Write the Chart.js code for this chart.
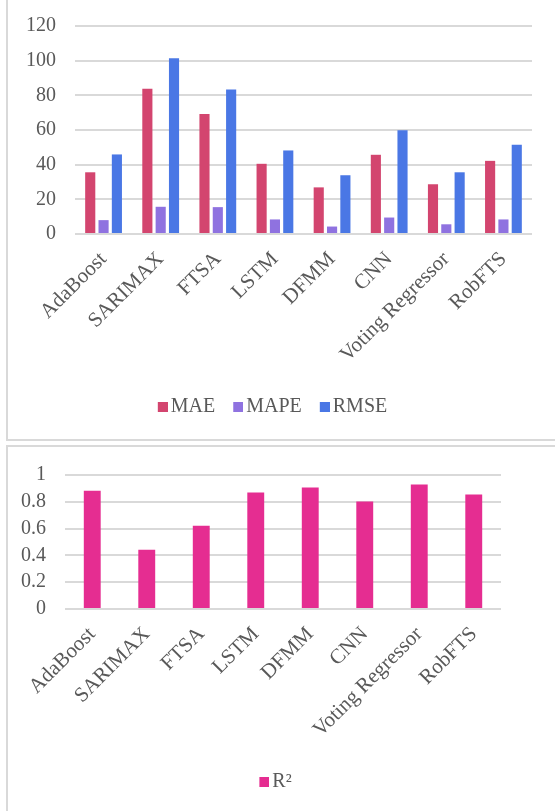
<!DOCTYPE html>
<html lang="en">
<head>
<meta charset="UTF-8">
<title>Model error metrics</title>
<script src="https://cdn.jsdelivr.net/npm/chart.js"></script>
<style>
  body {
    margin: 0;
    background: #fff;
    width: 555px;
    height: 811px;
    overflow: hidden;
    position: relative;
  }
  .panel {
    position: absolute;
    left: 6px;
    width: 570px;
    border: 2px solid #d9d9d9;
    box-sizing: border-box;
  }
  #panel-top { top: -10px; height: 451px; }
  #panel-bottom { top: 445px; height: 400px; }
  canvas { position: absolute; left: 0; }
  #error-chart { top: -5px; }
  #r2-chart { top: 444px; }
</style>
</head>
<body>

<div class="panel" id="panel-top"></div>
<div class="panel" id="panel-bottom"></div>
<canvas id="error-chart" width="555" height="440"></canvas>
<canvas id="r2-chart" width="555" height="365"></canvas>

<script>
  const models = ['AdaBoost', 'SARIMAX', 'FTSA', 'LSTM', 'DFMM', 'CNN', 'Voting Regressor', 'RobFTS'];
  const maeValues = [35.6, 83.8, 69.3, 40.5, 26.9, 45.7, 28.7, 42.2];
  const mapeValues = [8.0, 15.7, 15.5, 8.4, 4.3, 9.5, 5.6, 8.4];
  const rmseValues = [45.9, 101.4, 83.4, 48.2, 33.9, 59.8, 35.6, 51.5];
  const r2Values = [0.882, 0.442, 0.621, 0.870, 0.907, 0.802, 0.930, 0.855];

  const textColor = '#595959';
  const gridColor = '#d9d9d9';
  const serif = 'Liberation Serif';

  Chart.defaults.font.family = serif;
  Chart.defaults.font.size = 20;
  Chart.defaults.color = textColor;
  Chart.defaults.animation = false;

  // y axis labels: "0.8" style for the R² chart, plain integers for the other
  function tickText(v) {
    return Number.isInteger(v) ? String(v) : v.toFixed(1);
  }

  // legend square sitting close to its text (Excel style), drawn as a point style image
  function swatch(color) {
    const c = document.createElement('canvas');
    c.width = 30;
    c.height = 10;
    const g = c.getContext('2d');
    g.fillStyle = color;
    g.fillRect(20, 0, 10, 10);
    return c;
  }

  function legendItems(chart) {
    const items = Chart.defaults.plugins.legend.labels.generateLabels(chart);
    items.forEach(item => {
      item.pointStyle = swatch(chart.data.datasets[item.datasetIndex].backgroundColor);
    });
    return items;
  }

  function commonOptions(yMax, yStep, yWidth, xHeight, rightGap, pad) {
    return {
      responsive: false,
      maintainAspectRatio: false,
      layout: { padding: pad },
      plugins: {
        legend: {
          position: 'bottom',
          labels: {
            usePointStyle: true,
            boxWidth: 16,
            boxHeight: 10,
            padding: 5,
            color: textColor,
            font: { family: serif, size: 20 },
            generateLabels: legendItems
          }
        },
        tooltip: { enabled: false }
      },
      scales: {
        x: {
          grid: { display: false },
          border: { display: false },
          ticks: { minRotation: 45, maxRotation: 45, padding: 5, autoSkip: false, color: textColor, font: { family: serif, size: 21 } },
          afterFit: s => { s.height = xHeight; }
        },
        y: {
          min: 0,
          max: yMax,
          ticks: { stepSize: yStep, padding: 19, autoSkip: false, color: textColor, font: { family: serif, size: 20 }, callback: tickText },
          grid: { color: gridColor, lineWidth: 2, drawTicks: false },
          border: { display: false },
          afterFit: s => { s.width = yWidth; }
        },
        // empty right-hand axis, only keeps the plot narrower than the legend row
        gap: {
          type: 'linear',
          position: 'right',
          grid: { display: false },
          border: { display: false },
          ticks: { display: false },
          afterFit: s => { s.width = rightGap; }
        }
      }
    };
  }

  new Chart(document.getElementById('error-chart'), {
    type: 'bar',
    data: {
      labels: models,
      datasets: [
        { label: 'MAE', data: maeValues, backgroundColor: '#d3456f', categoryPercentage: 0.7, barPercentage: 0.76 },
        { label: 'MAPE', data: mapeValues, backgroundColor: '#8f72e0', categoryPercentage: 0.7, barPercentage: 0.76 },
        { label: 'RMSE', data: rmseValues, backgroundColor: '#4a77e5', categoryPercentage: 0.7, barPercentage: 0.76 }
      ]
    },
    options: commonOptions(120, 20, 75, 158, 0, { top: 21, right: 23, left: 0, bottom: 8 })
  });

  new Chart(document.getElementById('r2-chart'), {
    type: 'bar',
    data: {
      labels: models,
      datasets: [
        { label: 'R²', data: r2Values, backgroundColor: '#e52d91', categoryPercentage: 0.31, barPercentage: 1 }
      ]
    },
    options: commonOptions(1, 0.2, 65, 158, 37, { top: 28, right: 17, left: 0, bottom: 7 })
  });
</script>

</body>
</html>
